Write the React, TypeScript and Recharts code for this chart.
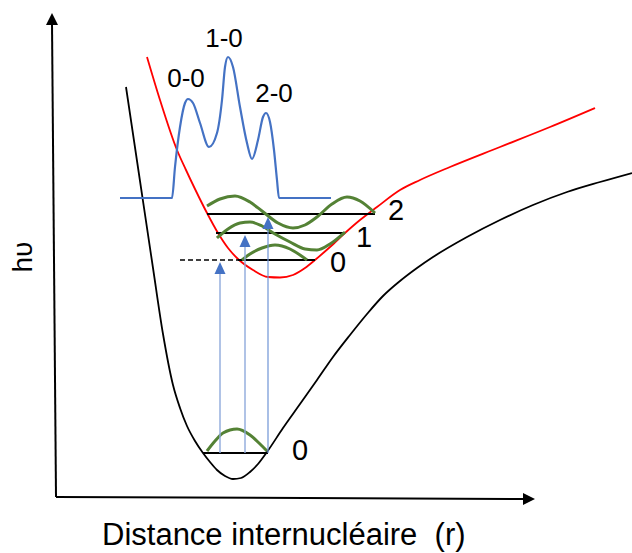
import React from "react";
import { ComposedChart, Line, Scatter, XAxis, YAxis } from "recharts";

type Pt = { r: number; E: number };
type Tag = Pt & { text: string };
type Tip = Pt & { dir: "up" | "right" };

// r = internuclear distance, E = energy (arbitrary units, origin at the axes corner)
const groundCurve: Pt[] = [
  { r: 70, E: 410 }, { r: 84, E: 316 }, { r: 97, E: 229 }, { r: 107, E: 163 },
  { r: 117, E: 112 }, { r: 124, E: 89 }, { r: 131, E: 71 }, { r: 139, E: 56 },
  { r: 147, E: 44 }, { r: 154, E: 35 }, { r: 161, E: 27 }, { r: 169, E: 21 },
  { r: 177, E: 18 }, { r: 185, E: 19 }, { r: 194, E: 25 }, { r: 202, E: 33 },
  { r: 211, E: 45 }, { r: 227, E: 69 }, { r: 244, E: 93 }, { r: 261, E: 117 },
  { r: 277, E: 140 }, { r: 294, E: 162 }, { r: 311, E: 183 }, { r: 327, E: 201 },
  { r: 344, E: 216 }, { r: 361, E: 229 }, { r: 377, E: 240 }, { r: 411, E: 260 },
  { r: 444, E: 277 }, { r: 477, E: 292 }, { r: 511, E: 305 }, { r: 544, E: 315 },
  { r: 576, E: 324 },
];

const excitedCurve: Pt[] = [
  { r: 91, E: 440 }, { r: 104, E: 397 }, { r: 121, E: 347 }, { r: 130, E: 327 },
  { r: 139, E: 308 }, { r: 151, E: 284 }, { r: 162, E: 264 }, { r: 172, E: 249 },
  { r: 182, E: 238 }, { r: 197, E: 227 }, { r: 212, E: 220 }, { r: 224, E: 219.5 },
  { r: 237, E: 222 }, { r: 249, E: 229 }, { r: 259, E: 237 }, { r: 274, E: 250 },
  { r: 289, E: 264 }, { r: 304, E: 277 }, { r: 321, E: 290 }, { r: 344, E: 307 },
  { r: 364, E: 317 }, { r: 394, E: 330 }, { r: 444, E: 350 }, { r: 494, E: 370 },
  { r: 539, E: 389 },
];

const spectrum: Pt[] = [
  { r: 64, E: 299 }, { r: 116, E: 299 }, { r: 119, E: 330 }, { r: 124, E: 370 },
  { r: 129, E: 394 }, { r: 132, E: 398 }, { r: 137, E: 394 }, { r: 144, E: 374 },
  { r: 153, E: 350 }, { r: 161, E: 364 }, { r: 166, E: 397 }, { r: 169, E: 430 },
  { r: 172, E: 440 }, { r: 177, E: 430 }, { r: 184, E: 390 }, { r: 191, E: 354 },
  { r: 196, E: 338 }, { r: 202, E: 357 }, { r: 207, E: 380 }, { r: 210, E: 384 },
  { r: 214, E: 375 }, { r: 218, E: 347 }, { r: 221, E: 317 }, { r: 223, E: 299 },
  { r: 275, E: 299 },
];

const psiGround0: Pt[] = [
  { r: 151, E: 46 }, { r: 159, E: 56 }, { r: 167, E: 64 }, { r: 181, E: 68 },
  { r: 194, E: 62 }, { r: 204, E: 53 }, { r: 211, E: 46 },
];
const psiExc0: Pt[] = [
  { r: 186, E: 237 }, { r: 194, E: 243 }, { r: 206, E: 249 }, { r: 219, E: 252 },
  { r: 234, E: 248 }, { r: 244, E: 242 }, { r: 251, E: 237 },
];
const psiExc1: Pt[] = [
  { r: 161, E: 259 }, { r: 172, E: 268 }, { r: 184, E: 274 }, { r: 194, E: 275 },
  { r: 206, E: 271 }, { r: 219, E: 263 }, { r: 234, E: 255 }, { r: 249, E: 248 },
  { r: 261, E: 247 }, { r: 274, E: 253 }, { r: 289, E: 265 },
];
const psiExc2: Pt[] = [
  { r: 151, E: 291 }, { r: 164, E: 298 }, { r: 179, E: 301 }, { r: 194, E: 295 },
  { r: 206, E: 286 }, { r: 222, E: 274 }, { r: 237, E: 269 }, { r: 249, E: 272 },
  { r: 261, E: 280 }, { r: 276, E: 293 }, { r: 291, E: 300 }, { r: 304, E: 296 },
  { r: 319, E: 284 },
];

const levelGround0: Pt[] = [{ r: 147, E: 44 }, { r: 212, E: 44 }];
const levelExc0Dash: Pt[] = [{ r: 124, E: 237 }, { r: 182, E: 237 }];
const levelExc0: Pt[] = [{ r: 182, E: 237 }, { r: 259, E: 237 }];
const levelExc1: Pt[] = [{ r: 160, E: 264 }, { r: 289, E: 264 }];
const levelExc2: Pt[] = [{ r: 151, E: 283 }, { r: 319, E: 283 }];

const transition00: Pt[] = [{ r: 164, E: 44 }, { r: 164, E: 230 }];
const transition10: Pt[] = [{ r: 189, E: 44 }, { r: 189, E: 257 }];
const transition20: Pt[] = [{ r: 212, E: 44 }, { r: 212, E: 275 }];
const transitionTips: Tip[] = [
  { r: 164, E: 235, dir: "up" },
  { r: 189, E: 262, dir: "up" },
  { r: 212, E: 280, dir: "up" },
];

const axisEnergy: Pt[] = [{ r: 0, E: 0 }, { r: -4, E: 474 }];
const axisDistance: Pt[] = [{ r: 0, E: 0 }, { r: 469, E: -2 }];
const axisTips: Tip[] = [
  { r: -4, E: 484, dir: "up" },
  { r: 479, E: -2, dir: "right" },
];

const peakLabels: Tag[] = [
  { r: 130, E: 410, text: "0-0" },
  { r: 168, E: 450, text: "1-0" },
  { r: 218, E: 395, text: "2-0" },
];
const levelLabels: Tag[] = [
  { r: 340, E: 277, text: "2" },
  { r: 308, E: 250, text: "1" },
  { r: 282, E: 225, text: "0" },
  { r: 244, E: 37, text: "0" },
];
const energyTitle: Tag[] = [{ r: -24, E: 240, text: "hυ" }];
const distanceTitle: Tag[] = [{ r: 46, E: -48, text: "Distance internucléaire  (r)" }];

const FONT = "'Liberation Sans', Arial, sans-serif";

const arrowHead = (color: string, w: number, h: number) => (props: any) => {
  const { cx, cy, payload } = props;
  const pts =
    payload.dir === "right"
      ? `${cx},${cy} ${cx - h},${cy - w / 2} ${cx - h},${cy + w / 2}`
      : `${cx},${cy} ${cx - w / 2},${cy + h} ${cx + w / 2},${cy + h}`;
  return <polygon points={pts} fill={color} />;
};

const textShape =
  (size: number, anchor: "start" | "middle", rotate = false) => (props: any) => {
    const { cx, cy, payload } = props;
    return (
      <text
        x={cx}
        y={cy}
        fontSize={size}
        fontFamily={FONT}
        fill="#000"
        textAnchor={anchor}
        style={{ whiteSpace: "pre" }}
        transform={rotate ? `rotate(-90 ${cx} ${cy})` : undefined}
      >
        {payload.text}
      </text>
    );
  };

const curve = (data: Pt[], color: string, width: number, key: string, dash?: string) => (
  <Line
    key={key}
    data={data}
    dataKey="E"
    type="monotone"
    stroke={color}
    strokeWidth={width}
    strokeDasharray={dash}
    dot={false}
    activeDot={false}
    isAnimationActive={false}
  />
);

export default function App() {
  return (
    <div style={{ position: "absolute", left: 0, top: 0, background: "#fff" }}>
      <ComposedChart width={632} height={553} margin={{ top: 0, right: 0, bottom: 0, left: 0 }}>
        <XAxis type="number" dataKey="r" domain={[-56, 576]} allowDataOverflow hide />
        <YAxis type="number" dataKey="E" domain={[-56, 497]} allowDataOverflow hide />
        {curve(axisEnergy, "#000", 2, "ax1")}
        {curve(axisDistance, "#000", 2, "ax2")}
        {curve(groundCurve, "#000", 1.8, "ground")}
        {curve(excitedCurve, "#FF0000", 1.8, "excited")}
        {curve(spectrum, "#4472C4", 2.2, "spectrum")}
        {curve(levelGround0, "#000", 2, "lg0")}
        {curve(levelExc0Dash, "#000", 1.6, "le0d", "5 3")}
        {curve(levelExc0, "#000", 2, "le0")}
        {curve(levelExc1, "#000", 2, "le1")}
        {curve(levelExc2, "#000", 2, "le2")}
        {curve(psiGround0, "#548235", 3, "pg0")}
        {curve(psiExc0, "#548235", 3, "pe0")}
        {curve(psiExc1, "#548235", 3, "pe1")}
        {curve(psiExc2, "#548235", 3, "pe2")}
        {curve(transition00, "#8FAADC", 1.4, "t0")}
        {curve(transition10, "#8FAADC", 1.4, "t1")}
        {curve(transition20, "#6F94D6", 1.2, "t2")}
        <Scatter data={transitionTips} dataKey="E" shape={arrowHead("#4472C4", 11, 12)} isAnimationActive={false} />
        <Scatter data={axisTips} dataKey="E" shape={arrowHead("#000", 12, 12)} isAnimationActive={false} />
        <Scatter data={peakLabels} dataKey="E" shape={textShape(26, "middle")} isAnimationActive={false} />
        <Scatter data={levelLabels} dataKey="E" shape={textShape(29, "middle")} isAnimationActive={false} />
        <Scatter data={energyTitle} dataKey="E" shape={textShape(28, "middle", true)} isAnimationActive={false} />
        <Scatter data={distanceTitle} dataKey="E" shape={textShape(31, "start")} isAnimationActive={false} />
      </ComposedChart>
    </div>
  );
}
